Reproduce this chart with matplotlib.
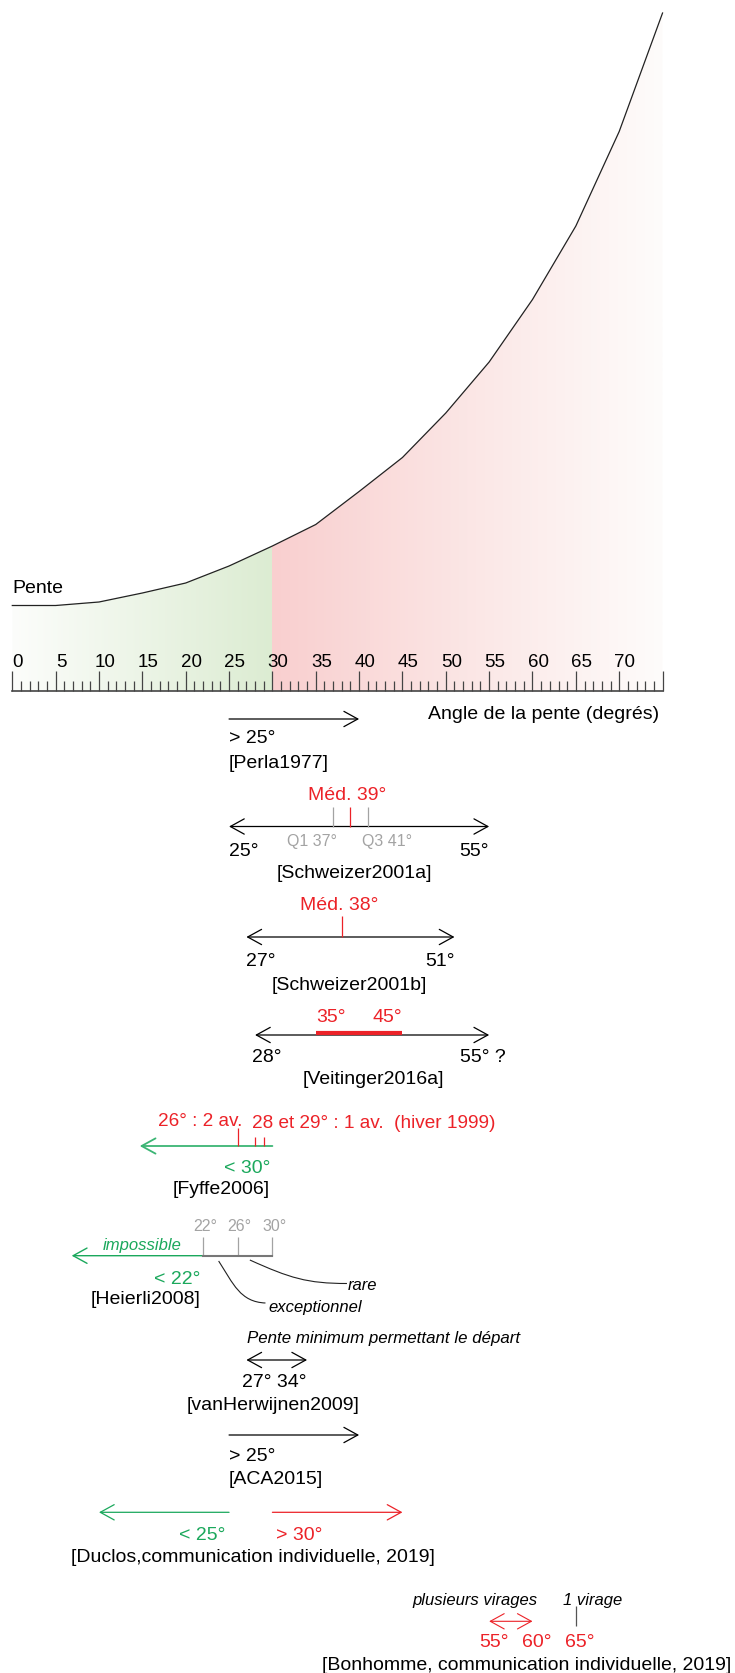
import matplotlib
matplotlib.use("Agg")
import matplotlib.pyplot as plt
import numpy as np
from matplotlib.patches import FancyArrowPatch, Polygon, PathPatch
from matplotlib.path import Path
from matplotlib.colors import LinearSegmentedColormap

plt.rcParams['font.family'] = ['Liberation Sans', 'DejaVu Sans']

# courbe "Pente" (hauteur relative, en px)
angles = [0, 5, 10, 15, 20, 25, 30, 35, 40, 45, 50, 55, 60, 65, 70, 75]
pente = [0, 0, 3.5, 12.5, 22.5, 39.5, 59.5, 81, 114, 148, 192.5, 243.5, 306, 379.5, 474, 592.5]
ruler_labels = [0, 5, 10, 15, 20, 25, 30, 35, 40, 45, 50, 55, 60, 65, 70]
ruler_max = 75
green_limit = 30

# valeurs des études (degrés)
perla_min = 25
schweizer_a = [25, 55]
schweizer_a_quartiles = [37, 41]
schweizer_a_median = 39
schweizer_b = [27, 51]
schweizer_b_median = 38
veitinger = [28, 55]
veitinger_core = [35, 45]
fyffe_max = 30
fyffe_avalanches = [26, 28, 29]
heierli = [22, 26, 30]
vanherwijnen = [27, 34]
aca_min = 25
duclos = [25, 30]
bonhomme_range = [55, 60]
bonhomme_single = 65

RED = '#ec2228'
GREEN = '#1ba85c'
GREY = '#a3a3a3'

# px -> degrés (axe horizontal du dessin)
X0, PPD = 12.3, 8.67


def px(p):
    return (p - X0) / PPD


fig = plt.figure(figsize=(7.35, 16.74), dpi=100)
ax = fig.add_axes([0, 0, 1, 1])
ax.axis('off')

axis_y = 691.7
base_y = 606.5


def txt(x, y, s, color='black', size=14, ha='left', style='normal'):
    ax.text(x, y, s, color=color, fontsize=size, ha=ha, va='center', style=style)


def arrow(x0, x1, y, color='black', style='->', lw=0.9):
    ax.add_patch(FancyArrowPatch((x0, y), (x1, y),
                                 arrowstyle=style + ',head_length=1.0,head_width=0.55',
                                 mutation_scale=10, color=color, lw=lw,
                                 shrinkA=0, shrinkB=0))


def vline(x, y0, y1, color, lw=0.9):
    ax.plot([x, x], [y0, y1], color=color, lw=lw, solid_capstyle='butt')


# remplissage en dégradé sous la courbe
curve_y = [base_y - p for p in pente]
poly = np.column_stack([angles + [ruler_max, 0], curve_y + [axis_y, axis_y]])
clip = Polygon(poly, closed=True, facecolor='none', edgecolor='none')
ax.add_patch(clip)
grad = np.linspace(0, 1, 256).reshape(1, -1)
cm_green = LinearSegmentedColormap.from_list('g', ['#fcfdfb', '#dcecd2'])
cm_red = LinearSegmentedColormap.from_list('r', ['#f9cfcf', '#fbe6e5', '#fefcfb'])
im = ax.imshow(grad, cmap=cm_green, extent=[0, green_limit, axis_y, 0], aspect='auto', zorder=0)
im.set_clip_path(clip)
im2 = ax.imshow(grad, cmap=cm_red, extent=[green_limit, ruler_max, axis_y, 0], aspect='auto', zorder=0)
im2.set_clip_path(clip)

ax.plot(angles, curve_y, color='#222222', lw=0.9)
txt(px(12.7), 588.3, 'Pente')

# règle graduée
ax.plot([0, ruler_max], [axis_y, axis_y], color='#444444', lw=1.2)
for d in range(0, ruler_max + 1):
    h = 20 if d % 5 == 0 else 10
    vline(d, axis_y - h, axis_y, '#444444', lw=0.9)
for lab in ruler_labels:
    txt(lab + 0.65, 662, str(lab), size=13.5, ha='center')
txt(px(659), 714.7, 'Angle de la pente (degrés)', ha='right')

# [Perla1977]
arrow(perla_min, 40, 720)
txt(perla_min, 738, '> %d°' % perla_min)
txt(perla_min, 763, '[Perla1977]')

# [Schweizer2001a]
y = 827.5
txt(schweizer_a_median - 0.4, 796, 'Méd. %d°' % schweizer_a_median, color=RED, ha='center')
for q in schweizer_a_quartiles:
    vline(q, 807.5, y, GREY)
vline(schweizer_a_median, 807.5, y, RED)
arrow(schweizer_a[0], schweizer_a[1], y, style='<->')
txt(schweizer_a_quartiles[0] + 0.4, 841.5, 'Q1 %d°' % schweizer_a_quartiles[0], color=GREY, size=11.5, ha='right')
txt(schweizer_a_quartiles[1] - 0.7, 841.5, 'Q3 %d°' % schweizer_a_quartiles[1], color=GREY, size=11.5)
txt(schweizer_a[0], 851, '%d°' % schweizer_a[0])
txt(schweizer_a[1], 851, '%d°' % schweizer_a[1], ha='right')
txt(39.5, 873, '[Schweizer2001a]', ha='center')

# [Schweizer2001b]
y = 938
txt(schweizer_b_median - 0.25, 906, 'Méd. %d°' % schweizer_b_median, color=RED, ha='center')
vline(schweizer_b_median, 916.7, y, RED)
arrow(schweizer_b[0], schweizer_b[1], y, style='<->')
txt(schweizer_b[0], 961.5, '%d°' % schweizer_b[0])
txt(schweizer_b[1], 961.5, '%d°' % schweizer_b[1], ha='right')
txt(38.9, 985, '[Schweizer2001b]', ha='center')

# [Veitinger2016a]
y = 1036
txt(veitinger_core[0] + 0.1, 1017, '%d°' % veitinger_core[0], color=RED)
txt(veitinger_core[1], 1017, '%d°' % veitinger_core[1], color=RED, ha='right')
arrow(veitinger[0], veitinger[1], y, style='<->')
ax.plot(veitinger_core, [1034, 1034], color=RED, lw=3, solid_capstyle='butt')
txt(veitinger[0] - 0.4, 1057, '%d°' % veitinger[0])
txt(veitinger[1] - 3.4, 1057, '%d° ?' % veitinger[1])
txt(41.7, 1080, '[Veitinger2016a]', ha='center')

# [Fyffe2006]
y = 1147
txt(px(158.3), 1121.7, '26° : 2 av.', color=RED, size=13.7)
txt(px(251.7), 1124, '28 et 29° : 1 av.  (hiver 1999)', color=RED, size=13.7)
vline(fyffe_avalanches[0], 1129, y, RED)
for a in fyffe_avalanches[1:]:
    vline(a, 1138, y, RED)
arrow(fyffe_max, 14.7, y, color='#3bb574', lw=1.3)
txt(fyffe_max - 0.28, 1168.3, '< %d°' % fyffe_max, color=GREEN, ha='right')
txt(fyffe_max - 0.28, 1190, '[Fyffe2006]', ha='right')

# [Heierli2008]
y = 1256.7
for h in heierli:
    txt(h + 0.2, 1226.7, '%d°' % h, color=GREY, size=11.5, ha='center')
    vline(h, 1238, y, GREY)
ax.plot([heierli[0], heierli[-1]], [y, y], color='#777777', lw=1.5)
arrow(heierli[0], 6.85, y, color=GREEN, lw=1.0)
txt(px(181.7), 1245.7, 'impossible', color=GREEN, size=12, ha='right', style='italic')
txt(heierli[0] - 0.35, 1280, '< %d°' % heierli[0], color=GREEN, ha='right')
txt(heierli[0] - 0.35, 1299, '[Heierli2008]', ha='right')
# lignes de rappel
for pts in ([(23.8, 1262), (25.5, 1285), (26.3, 1303), (29.2, 1304)],
            [(27.4, 1261), (32.0, 1279), (34.0, 1284.5), (38.6, 1284.5)]):
    path = Path(pts, [Path.MOVETO, Path.CURVE4, Path.CURVE4, Path.CURVE4])
    ax.add_patch(PathPatch(path, facecolor='none', edgecolor='#222222', lw=0.8))
txt(29.6, 1307.3, 'exceptionnel', size=12, style='italic')
txt(38.7, 1285.7, 'rare', size=12, style='italic')

# [vanHerwijnen2009]
txt(vanherwijnen[0] + 0.03, 1339, 'Pente minimum permettant le départ', size=12.2, style='italic')
arrow(vanherwijnen[0], vanherwijnen[1], 1361, style='<->')
txt(vanherwijnen[0] - 0.55, 1382.7, '%d° %d°' % tuple(vanherwijnen))
txt(30.05, 1406, '[vanHerwijnen2009]', ha='center')

# [ACA2015]
arrow(aca_min, 40, 1436)
txt(aca_min, 1456.7, '> %d°' % aca_min)
txt(aca_min, 1480, '[ACA2015]')

# [Duclos]
y = 1513.3
arrow(duclos[0], 10, y, color=GREEN, lw=0.9)
arrow(duclos[1], 45, y, color=RED, lw=0.9)
txt(duclos[0] - 0.42, 1535, '< %d°' % duclos[0], color=GREEN, ha='right')
txt(duclos[1] + 0.37, 1535, '> %d°' % duclos[1], color=RED)
txt(27.76, 1557.6, '[Duclos,communication individuelle, 2019]', ha='center')

# [Bonhomme]
txt(46.14, 1600.7, 'plusieurs virages', size=12, style='italic')
txt(63.5, 1600.7, '1 virage', size=12, style='italic')
arrow(bonhomme_range[0], bonhomme_range[1], 1622.3, color=RED, style='<->', lw=0.8)
vline(bonhomme_single, 1606.7, 1627.3, '#555555')
for v in bonhomme_range + [bonhomme_single]:
    txt(v + 0.5, 1642.3, '%d°' % v, color=RED, ha='center')
txt(px(731.7), 1665.7, '[Bonhomme, communication individuelle, 2019]', ha='right')

ax.set_xlim(px(0), px(735))
ax.set_ylim(1674, 0)

fig.savefig('out.png', dpi=100)
